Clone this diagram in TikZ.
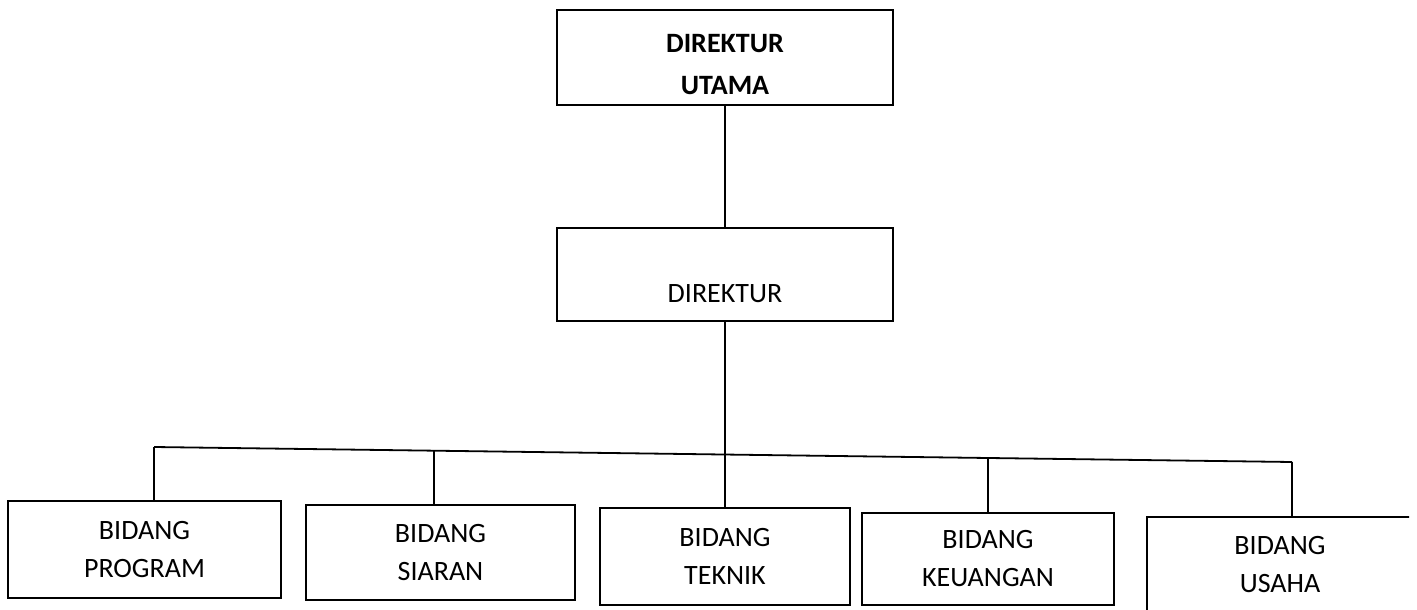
\documentclass[tikz,border=0pt]{standalone}
\usepackage{fontspec}
\setmainfont{Carlito}
\usepackage{tikz}

\begin{document}
\begin{tikzpicture}[x=1pt, y=-1pt,
    box/.style={draw, line width=1.8pt, inner sep=0pt, align=center, font=\fontsize{28}{38}\selectfont},
    link/.style={line width=1.8pt}]
                        \useasboundingbox (0, 0) rectangle (1417, 610);
                        \clip (0, 0) rectangle (1409, 609);

                        \node[box, font=\bfseries\fontsize{28}{42}\selectfont, minimum width=336pt, text height=85pt, text depth=10pt] (utama) at (725, 57.5) {DIREKTUR\\UTAMA};
                        \node[box, minimum width=336pt, text height=74pt, text depth=19pt] (direktur) at (725, 274.5) {DIREKTUR};

                        \node[box, minimum width=273pt, minimum height=97pt] (program) at (144.5, 549.5) {BIDANG\\PROGRAM};
                        \node[box, minimum width=269pt, minimum height=95pt] (siaran) at (440.5, 552.5) {BIDANG\\SIARAN};
                        \node[box, minimum width=250pt, minimum height=97pt] (teknik) at (725, 556.5) {BIDANG\\TEKNIK};
                        \node[box, minimum width=252pt, minimum height=92pt] (keuangan) at (988, 559) {BIDANG\\KEUANGAN};
                        \node[box, minimum width=266pt, minimum height=96pt] (usaha) at (1280, 565) {BIDANG\\USAHA};

                        \coordinate (b1) at (154, 447);
                        \coordinate (b2) at (434, 450.7);
                        \coordinate (b4) at (988, 458);
                        \coordinate (b5) at (1292, 462);

                        \draw[link] (utama.south) -- (direktur.north);
                        \draw[link] (direktur.south) -- (teknik.north);
                        \draw[link] (b1) -- (b5);
                        \foreach \b/\n in {b1/program, b2/siaran, b4/keuangan, b5/usaha}
                            \draw[link] (\b) -- (\b |- \n.north);
                    \end{tikzpicture}
\end{document}
